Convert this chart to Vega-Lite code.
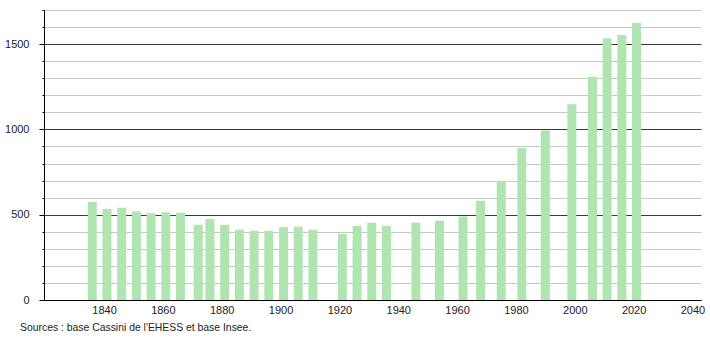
{
  "$schema": "https://vega.github.io/schema/vega-lite/v6.json",
  "width": 657,
  "height": 290,
  "autosize": {"type": "none"},
  "padding": {"left": 44, "top": 10, "right": 9, "bottom": 40},
  "background": "white",
  "config": {"view": {"stroke": null}, "font": "Liberation Sans"},
  "title": {
    "text": "Sources : base Cassini de l'EHESS et base Insee.",
    "orient": "bottom",
    "anchor": "start",
    "frame": "group",
    "fontSize": 10.4,
    "fontWeight": "normal",
    "color": "#222",
    "dx": -24,
    "offset": 8
  },
  "data": {
    "values": [
      {"year": 1836, "population": 575},
      {"year": 1841, "population": 533},
      {"year": 1846, "population": 541},
      {"year": 1851, "population": 519},
      {"year": 1856, "population": 508},
      {"year": 1861, "population": 514},
      {"year": 1866, "population": 512},
      {"year": 1872, "population": 441},
      {"year": 1876, "population": 475},
      {"year": 1881, "population": 441},
      {"year": 1886, "population": 412},
      {"year": 1891, "population": 406},
      {"year": 1896, "population": 406},
      {"year": 1901, "population": 427},
      {"year": 1906, "population": 429},
      {"year": 1911, "population": 412},
      {"year": 1921, "population": 388},
      {"year": 1926, "population": 435},
      {"year": 1931, "population": 453},
      {"year": 1936, "population": 435},
      {"year": 1946, "population": 453},
      {"year": 1954, "population": 465},
      {"year": 1962, "population": 490},
      {"year": 1968, "population": 582},
      {"year": 1975, "population": 696},
      {"year": 1982, "population": 892},
      {"year": 1990, "population": 994},
      {"year": 1999, "population": 1147},
      {"year": 2006, "population": 1308},
      {"year": 2011, "population": 1535},
      {"year": 2016, "population": 1553},
      {"year": 2021, "population": 1624}
    ]
  },
  "mark": {"type": "bar", "size": 9, "color": "#b0e4b0"},
  "encoding": {
    "x": {
      "field": "year",
      "type": "quantitative",
      "scale": {"domain": [1819.6, 2042.9], "nice": false, "zero": false, "padding": 0},
      "axis": {
        "values": [1840, 1860, 1880, 1900, 1920, 1940, 1960, 1980, 2000, 2020, 2040],
        "format": "d",
        "grid": false,
        "ticks": false,
        "labelPadding": 4,
        "labelFontSize": 11,
        "labelColor": "#222",
        "labelFlush": false,
        "domainColor": "#000",
        "title": null
      }
    },
    "y": {
      "field": "population",
      "type": "quantitative",
      "scale": {"domain": [0, 1700], "nice": false, "padding": 0},
      "axis": {
        "values": [0, 100, 200, 300, 400, 500, 600, 700, 800, 900, 1000, 1100, 1200, 1300, 1400, 1500, 1600, 1700],
        "labelExpr": "datum.value % 500 === 0 ? datum.label : ''",
        "format": "d",
        "grid": true,
        "gridColor": {"condition": {"test": "datum.value % 500 === 0", "value": "#3a3a3a"}, "value": "#c8c8c8"},
        "gridOpacity": 1,
        "tickColor": "#000",
        "tickSize": {"condition": {"test": "datum.value % 500 === 0", "value": 5}, "value": 2},
        "labelPadding": 10,
        "labelFontSize": 11,
        "labelColor": "#222",
        "domainColor": "#000",
        "title": null
      }
    }
  }
}
